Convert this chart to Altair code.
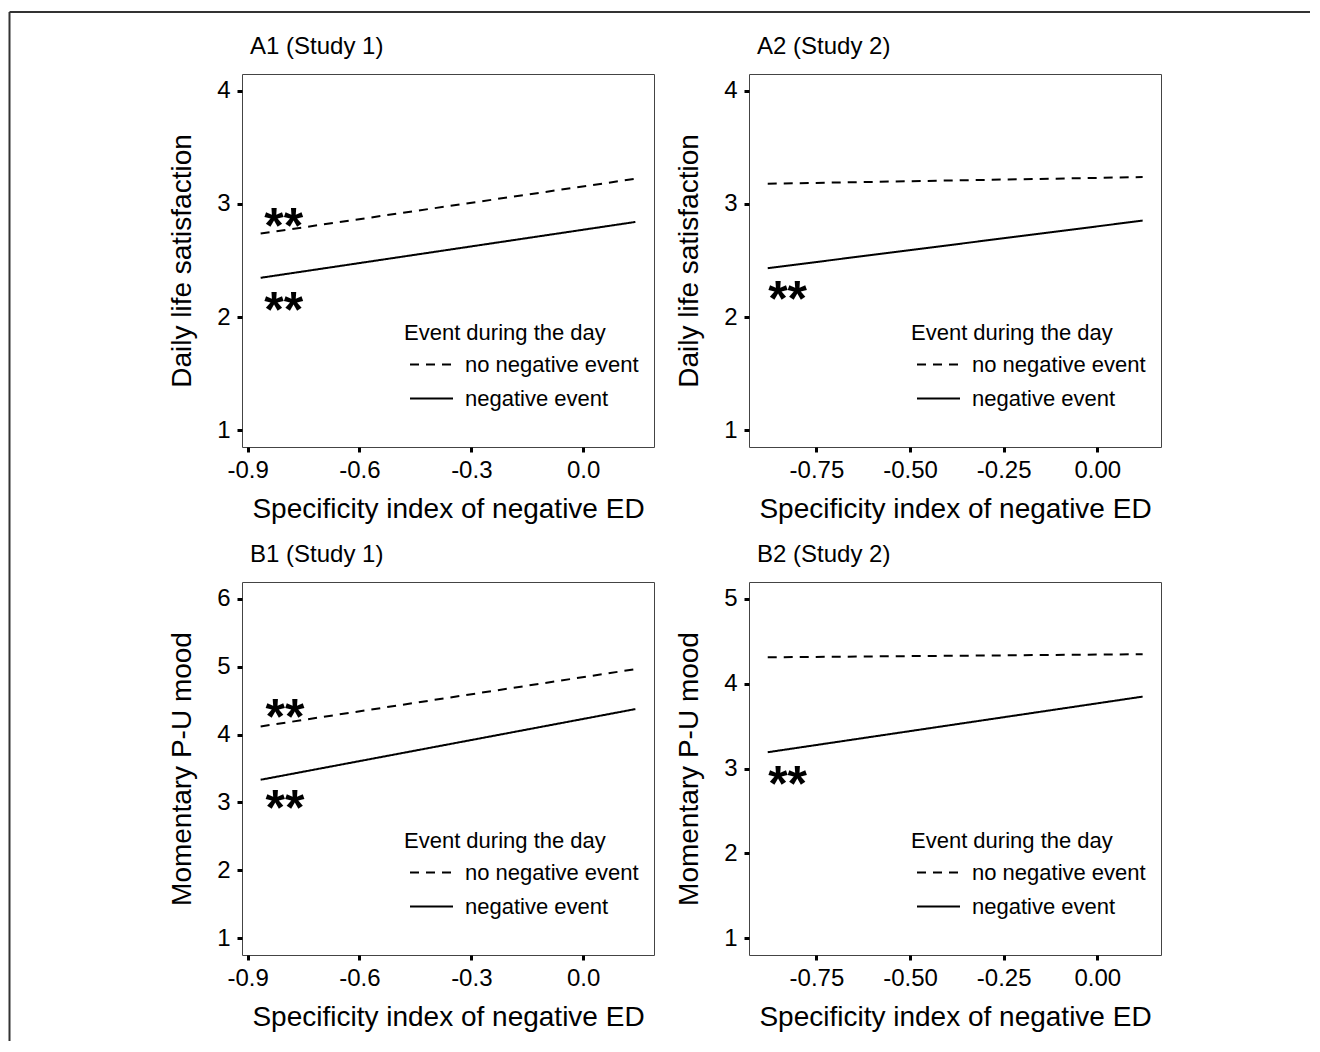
import altair as alt
import pandas as pd

FONT = "Liberation Sans"

# ---------------- data ----------------
events = ["no negative event", "negative event"]
legend_title = "Event during the day"

titles = ["A1 (Study 1)", "A2 (Study 2)", "B1 (Study 1)", "B2 (Study 2)"]
y_titles = ["Daily life satisfaction", "Daily life satisfaction",
            "Momentary P-U mood", "Momentary P-U mood"]
x_title = "Specificity index of negative ED"

x_start = [-0.865, -0.88, -0.865, -0.88]
x_end = [0.14, 0.121, 0.14, 0.121]
no_neg_start = [2.738, 3.179, 4.12, 4.312]
no_neg_end = [3.223, 3.238, 4.965, 4.348]
neg_start = [2.347, 2.432, 3.334, 3.192]
neg_end = [2.841, 2.853, 4.376, 3.848]

x_domains = [[-0.915, 0.19], [-0.93, 0.17], [-0.915, 0.19], [-0.93, 0.17]]
y_domains = [[0.85, 4.15], [0.85, 4.15], [0.75, 6.25], [0.8, 5.2]]
x_ticks = [[-0.9, -0.6, -0.3, 0.0], [-0.75, -0.5, -0.25, 0.0],
           [-0.9, -0.6, -0.3, 0.0], [-0.75, -0.5, -0.25, 0.0]]
x_formats = [".1f", ".2f", ".1f", ".2f"]
y_ticks = [[1, 2, 3, 4], [1, 2, 3, 4], [1, 2, 3, 4, 5, 6], [1, 2, 3, 4, 5]]

star_x = [[-0.803, -0.803], [-0.827], [-0.80, -0.80], [-0.827]]
star_y = [[2.884, 2.14], [2.237], [4.39, 3.055], [2.928]]
star_text = "**"

# ---------------- layout ----------------
W, H = 412, 373


def panel(i, border=False):
    lines = pd.DataFrame({
        "x": [x_start[i], x_end[i], x_start[i], x_end[i]],
        "y": [no_neg_start[i], no_neg_end[i], neg_start[i], neg_end[i]],
        "event": [events[0], events[0], events[1], events[1]],
    })
    stars = pd.DataFrame({"x": star_x[i], "y": star_y[i]})
    xs = alt.Scale(domain=x_domains[i], nice=False, zero=False)
    ys = alt.Scale(domain=y_domains[i], nice=False, zero=False)
    fmt = x_formats[i]
    xaxis = alt.Axis(
        values=x_ticks[i],
        labelExpr=f"replace(format(datum.value, '{fmt}'), '\u2212', '-')",
        title=x_title, titleY=70, titleBaseline="alphabetic",
        labelPadding=6,
    )
    yaxis = alt.Axis(
        values=y_ticks[i], format="d",
        title=y_titles[i], titleX=-60, titleY=H / 2, titleBaseline="middle",
        labelPadding=7,
    )
    legend = alt.Legend(
        title=legend_title, orient="none", legendX=162, legendY=249,
        symbolType="stroke", symbolSize=1849, symbolStrokeWidth=2,
        symbolStrokeColor="black", symbolOffset=5, labelOffset=11,
        labelFontSize=22, titleFontSize=22, titleFontWeight="normal",
        titlePadding=-3, rowPadding=-13, padding=0,
        labelColor="black", titleColor="black", labelLimit=400,
        titleLimit=400,
    )
    line_layer = alt.Chart(lines).mark_line(color="black", strokeWidth=2).encode(
        x=alt.X("x:Q", scale=xs, axis=xaxis),
        y=alt.Y("y:Q", scale=ys, axis=yaxis),
        strokeDash=alt.StrokeDash(
            "event:N",
            scale=alt.Scale(domain=events, range=[[9, 7], [1, 0]]),
            legend=legend,
        ),
    )
    star_layer = alt.Chart(stars).mark_text(
        text=star_text, fontSize=50, fontWeight="bold", baseline="alphabetic",
        dy=26, color="black",
    ).encode(
        x=alt.X("x:Q", scale=xs),
        y=alt.Y("y:Q", scale=ys),
    )
    title_layer = alt.Chart(pd.DataFrame({"t": [titles[i]]})).mark_text(
        align="left", baseline="alphabetic", fontSize=24, color="black",
    ).encode(x=alt.value(8), y=alt.value(-20), text="t:N")
    layers = [line_layer, star_layer, title_layer]
    if border:
        one = pd.DataFrame({"k": [0]})
        vline = alt.Chart(one).mark_rule(color="#333333", strokeWidth=2).encode(
            x=alt.value(-232.5), y=alt.value(-62), y2=alt.value(967))
        hline = alt.Chart(one).mark_rule(color="#333333", strokeWidth=2).encode(
            x=alt.value(-232.5), x2=alt.value(1068), y=alt.value(-62))
        layers += [vline, hline]
    return alt.layer(*layers).properties(width=W, height=H)


chart = alt.concat(
    panel(0, border=True), panel(1), panel(2), panel(3),
    columns=2, spacing={"row": 135, "column": 95}, bounds="flush",
).resolve_scale(
    x="independent", y="independent", strokeDash="independent"
).resolve_legend(strokeDash="independent").properties(
    padding={"left": 0, "top": 2, "right": 0, "bottom": 0},
    background="white",
).configure(font=FONT).configure_view(
    stroke="#444444", strokeWidth=1
).configure_axis(
    domain=False, grid=False, ticks=True, tickSize=5, tickWidth=3,
    tickColor="black", labelFontSize=24, labelColor="black",
    titleFontSize=28, titleFontWeight="normal", titleColor="black",
    labelFont=FONT, titleFont=FONT,
)

chart.save("out.html", embed_options={"renderer": "svg", "actions": False})
